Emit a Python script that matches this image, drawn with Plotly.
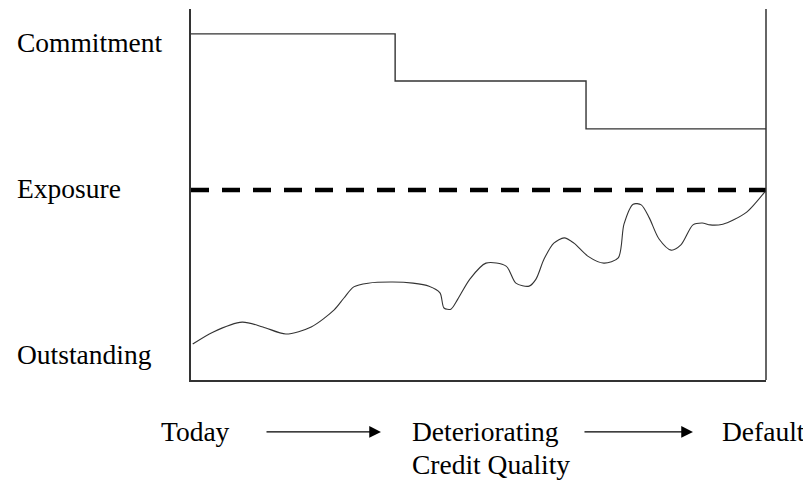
import plotly.graph_objects as go

# Horizontal position along the credit-quality path (0 = today, 100 = default)
commit_x = [0, 35.5, 68.7, 100]
commit_y = [93.3, 80.6, 67.7, 67.7]

exposure_x = [0, 100]
exposure_y = [51.2, 51.2]

out_x = [0.3, 3.8, 8.9, 12.5, 16.5, 20.9, 24.9, 26.6, 28.3, 30.8, 35.1, 38.6,
         41.4, 43.3, 44.0, 45.2, 46.4, 48.5, 51.3, 54.8, 56.5, 58.8, 60.0, 61.4,
         63.1, 64.9, 66.6, 69.0, 71.8, 74.3, 75.3, 76.9, 78.3, 79.7, 81.4, 83.5,
         85.2, 87.3, 88.9, 90.3, 92.5, 94.3, 96.7, 99.8]
out_y = [9.7, 12.9, 15.6, 14.3, 12.4, 14.3, 18.9, 22.1, 25.1, 26.1, 26.4, 26.1,
         25.3, 23.5, 19.4, 19.1, 21.8, 27.2, 31.5, 30.7, 26.1, 25.3, 27.2, 32.6,
         36.9, 38.3, 36.9, 33.4, 31.5, 32.9, 42.0, 47.4, 47.2, 43.7, 38.0, 35.0,
         36.4, 41.8, 42.3, 41.8, 42.0, 43.1, 45.3, 50.7]

side_labels = ["Commitment", "Exposure", "Outstanding"]
side_label_y = [0.911, 0.5175, 0.0674]
bottom_labels = ["Today", "Deteriorating", "Credit Quality", "Default"]
bottom_label_x = [-0.0557, 0.381, 0.381, 0.92]
bottom_label_y = [-0.140, -0.140, -0.229, -0.140]
arrow_tail_x = [0.1287, 0.6817]
arrow_tip_x = [0.3304, 0.873]

FONT = "Liberation Serif"
FS = 27.5
PLOT_W = 575

fig = go.Figure()
fig.add_trace(go.Scatter(x=commit_x, y=commit_y, mode="lines",
                         line=dict(color="#333333", width=1.4, shape="hv"),
                         hoverinfo="skip"))
fig.add_trace(go.Scatter(x=exposure_x, y=exposure_y, mode="lines",
                         line=dict(color="black", width=4.5, dash="18px,13px"),
                         hoverinfo="skip"))
fig.add_trace(go.Scatter(x=out_x, y=out_y, mode="lines",
                         line=dict(color="#333333", width=1.1, shape="spline", smoothing=0.8),
                         hoverinfo="skip"))

annotations = []
for t, y in zip(side_labels, side_label_y):
    annotations.append(dict(text=t, xref="paper", yref="paper", x=-0.306, y=y,
                            xanchor="left", yanchor="middle", showarrow=False,
                            font=dict(family=FONT, size=FS, color="black")))
for t, x, y in zip(bottom_labels, bottom_label_x, bottom_label_y):
    annotations.append(dict(text=t, xref="paper", yref="paper", x=x, y=y,
                            xanchor="left", yanchor="middle", showarrow=False,
                            font=dict(family=FONT, size=FS, color="black")))
for tail, tip in zip(arrow_tail_x, arrow_tip_x):
    annotations.append(dict(text="", xref="paper", yref="paper", x=tip, y=-0.140,
                            ax=(tail - tip) * PLOT_W, ay=0,
                            showarrow=True, arrowhead=2, arrowsize=1.8,
                            arrowwidth=1.3, arrowcolor="black"))

# page body has an 8px margin, so the figure is 8px smaller and shifted
fig.update_layout(
    width=803, height=477,
    margin=dict(l=183, r=45, t=1, b=105),
    paper_bgcolor="white", plot_bgcolor="white",
    showlegend=False,
    annotations=annotations,
    shapes=[dict(type="line", xref="paper", yref="paper", x0=1, x1=1, y0=0, y1=1,
                 line=dict(color="#333333", width=1.5))],
    xaxis=dict(range=[0, 100], showgrid=False, zeroline=False, showticklabels=False,
               ticks="", showline=True, linecolor="#333333", linewidth=1.5),
    yaxis=dict(range=[0, 100], showgrid=False, zeroline=False, showticklabels=False,
               ticks="", showline=True, linecolor="#333333", linewidth=1.5),
)

fig.write_html("out.html")
